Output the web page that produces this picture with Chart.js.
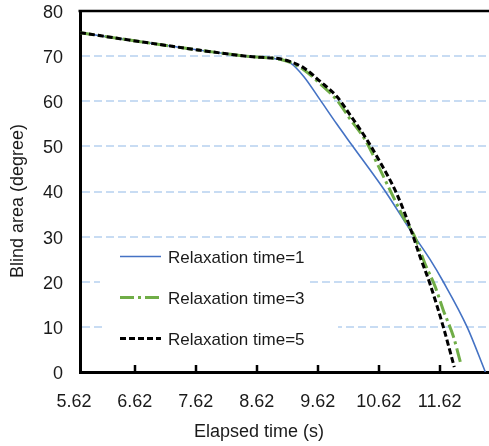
<!DOCTYPE html>
<html>
<head>
<meta charset="utf-8">
<script src="https://cdn.jsdelivr.net/npm/chart.js@4.4.0/dist/chart.umd.min.js"></script>
<style>
  html, body { margin: 0; padding: 0; background: #fff; }
</style>
</head>
<body>
<canvas id="chart" width="489" height="446"></canvas>
<script>
const seriesNames = ["Relaxation time=1", "Relaxation time=3", "Relaxation time=5"];
const xTickValues = [5.62, 6.62, 7.62, 8.62, 9.62, 10.62, 11.62];
const xTitle = "Elapsed time (s)";
const yTitle = "Blind area (degree)";

const time1 = [5.72, 6.71, 7.69, 8.02, 8.51, 8.84, 9.0, 9.17, 9.39, 9.66, 9.93, 10.18, 10.73, 11.14, 11.46, 11.68, 12.07, 12.37];
const area1 = [75.2, 73.2, 71.3, 70.7, 69.9, 69.6, 69.2, 68.5, 65.5, 60.3, 55.0, 50.3, 40.0, 31.4, 25.0, 20.0, 10.0, 0];

const time3 = [5.72, 6.71, 7.69, 8.02, 8.51, 8.84, 9.0, 9.17, 9.39, 9.66, 9.93, 10.15, 10.40, 10.62, 10.86, 11.05, 11.19, 11.38, 11.55, 11.68, 11.85, 11.96];
const area3 = [75.2, 73.2, 71.3, 70.7, 69.9, 69.6, 69.3, 68.6, 67.0, 63.9, 60.3, 56.1, 51.4, 45.5, 38.8, 33.7, 30.6, 24.0, 18.8, 13.7, 7.7, 2.2];

const time5 = [5.72, 6.71, 7.69, 8.02, 8.51, 8.84, 9.0, 9.17, 9.39, 9.66, 9.93, 10.15, 10.43, 10.64, 10.92, 11.16, 11.30, 11.46, 11.68, 11.86];
const area5 = [75.2, 73.2, 71.3, 70.7, 69.9, 69.6, 69.4, 68.8, 67.4, 64.4, 61.1, 57.0, 51.4, 46.6, 39.4, 31.1, 25.5, 19.6, 10.0, 1.1];

const toPoints = (xs, ys) => xs.map((x, i) => ({ x: x, y: ys[i] }));

const FONT = "Arial, 'Liberation Sans', sans-serif";
const TEXT = "#1a1a1a";
Chart.defaults.font.family = FONT;
Chart.defaults.color = TEXT;

const lineStyles = [
    { color: "#4472c4", width: 1.6, dash: [] },
    { color: "#70ad47", width: 3, dash: [14, 4, 3, 4] },
    { color: "#000000", width: 3, dash: [6, 3] },
];

// frame, inward ticks, axis titles and the legend inside the plot
const decorations = {
    id: "decorations",
    beforeDatasetsDraw(chart) {
        const ctx = chart.ctx;
        ctx.save();
        ctx.fillStyle = "#fff";
        ctx.fillRect(100, 276, 206, 42);
        ctx.fillRect(105, 320, 233, 38);
        ctx.restore();
    },
    afterDraw(chart) {
        const { ctx, chartArea: a, scales } = chart;
        ctx.save();
        ctx.strokeStyle = "#000";
        ctx.lineWidth = 2.5;
        ctx.beginPath();
        ctx.moveTo(a.left - 1.5, a.top);
        ctx.lineTo(a.right, a.top);
        ctx.stroke();

        ctx.beginPath();
        xTickValues.slice(1).forEach(function (v) {
            const px = Math.round(scales.x.getPixelForValue(v));
            ctx.moveTo(px, a.bottom);
            ctx.lineTo(px, a.bottom - 7);
        });
        ctx.stroke();

        ctx.fillStyle = TEXT;
        ctx.font = "18px " + FONT;
        ctx.textAlign = "center";
        ctx.textBaseline = "middle";
        ctx.fillText(xTitle, 259, 432);
        ctx.save();
        ctx.translate(18, 201);
        ctx.rotate(-Math.PI / 2);
        ctx.fillText(yTitle, 0, 0);
        ctx.restore();

        const rows = [258, 299, 340];
        ctx.font = "17px " + FONT;
        ctx.textAlign = "left";
        seriesNames.forEach(function (name, i) {
            const st = lineStyles[i];
            ctx.strokeStyle = st.color;
            ctx.lineWidth = st.width;
            ctx.setLineDash(st.dash);
            ctx.beginPath();
            ctx.moveTo(120, rows[i] - 1.5);
            ctx.lineTo(161, rows[i] - 1.5);
            ctx.stroke();
            ctx.setLineDash([]);
            ctx.fillText(name, 168, rows[i]);
        });
        ctx.restore();
    },
};

const sets = [toPoints(time1, area1), toPoints(time3, area3), toPoints(time5, area5)];

new Chart(document.getElementById("chart"), {
    type: "line",
    data: {
        datasets: sets.map(function (pts, i) {
            return {
                label: seriesNames[i],
                data: pts,
                borderColor: lineStyles[i].color,
                borderWidth: lineStyles[i].width,
                borderDash: lineStyles[i].dash,
                pointRadius: 0,
                cubicInterpolationMode: "monotone",
                fill: false,
                order: 2 - i,
            };
        }),
    },
    plugins: [decorations],
    options: {
        responsive: false,
        animation: false,
        layout: { padding: { top: 11, left: 0, right: 0, bottom: 0 } },
        plugins: {
            legend: { display: false },
            tooltip: { enabled: false },
        },
        scales: {
            x: {
                type: "linear",
                min: 5.72,
                max: 12.43,
                afterBuildTicks: function (scale) {
                    scale.ticks = xTickValues.map(function (v) { return { value: v }; });
                },
                afterFit: function (scale) {
                    scale.height = 74;
                    scale.paddingLeft = 0;
                    scale.paddingRight = 0;
                },
                ticks: {
                    autoSkip: false,
                    maxRotation: 0,
                    padding: 11,
                    font: { size: 18 },
                    color: TEXT,
                    callback: function (v) { return Number(v).toFixed(2); },
                },
                grid: { display: false },
                border: { display: true, color: "#000", width: 3 },
            },
            y: {
                min: 0,
                max: 80,
                afterFit: function (scale) {
                    scale.width = 80;
                    scale.paddingTop = 0;
                    scale.paddingBottom = 0;
                },
                ticks: {
                    stepSize: 10,
                    padding: 17,
                    labelOffset: 2,
                    font: { size: 18 },
                    color: TEXT,
                },
                grid: {
                    drawTicks: false,
                    lineWidth: 2,
                    color: function (c) {
                        const v = c.tick ? c.tick.value : 0;
                        return v === 0 || v === 80 ? "rgba(0,0,0,0)" : "#c8dcf3";
                    },
                },
                border: { display: true, color: "#000", width: 3, dash: [8, 4] },
            },
        },
    },
});
</script>
</body>
</html>
